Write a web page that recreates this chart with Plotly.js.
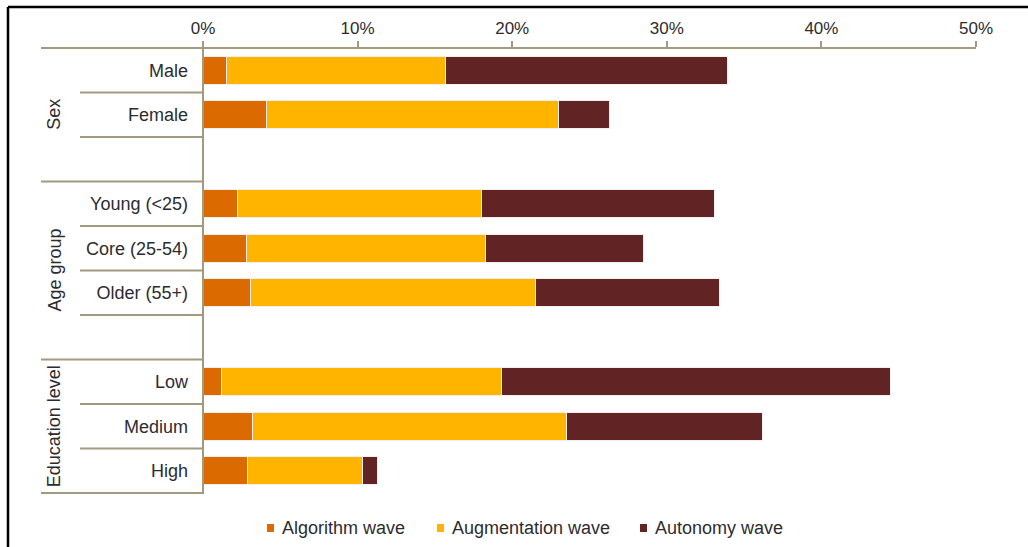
<!DOCTYPE html>
<html>
<head>
<meta charset="utf-8">
<script src="https://cdn.plot.ly/plotly-3.0.1.min.js"></script>
<style>
  html, body { margin: 0; padding: 0; background: #ffffff; }
  #chart { width: 1028px; height: 547px; }
</style>
</head>
<body>
<div id="chart"></div>
<script>
// Share of employment exposed to each automation wave, by worker group (%)
const categories   = ['Male', 'Female', 'Young (<25)', 'Core (25-54)', 'Older (55+)', 'Low', 'Medium', 'High'];
const algorithm    = [1.5, 4.1, 2.2, 2.8, 3.1, 1.2, 3.2, 2.9];
const augmentation = [14.2, 18.9, 15.8, 15.5, 18.4, 18.1, 20.3, 7.4];
const autonomy     = [18.2, 3.3, 15.1, 10.2, 11.9, 25.2, 12.7, 1.0];

const seriesNames  = ['Algorithm wave', 'Augmentation wave', 'Autonomy wave'];
const seriesColors = ['#db6a00', '#ffb400', '#612323'];

const groupNames = ['Sex', 'Age group', 'Education level'];
const groupSizes = [2, 3, 3];

const xTickVals = [0, 10, 20, 30, 40, 50];
const xTickText = ['0%', '10%', '20%', '30%', '40%', '50%'];

// ---- layout geometry (pixels) ----
const W = 1028, H = 547;
const M = { l: 203, r: 52, t: 48, b: 53 };
const plotW = W - M.l - M.r, plotH = H - M.t - M.b;
const px = v => (v - M.l) / plotW;          // pixel x -> paper x
const py = v => (H - M.b - v) / plotH;      // pixel y -> paper y

const ruleColor = '#a19a7f';
const textColor = '#2c2c30';
const FONT = 'Liberation Sans, Arial, sans-serif';

// category order with an empty spacer row after each group (except the last)
const order = [];
const groupSpan = [];
let ci = 0;
groupSizes.forEach((n, g) => {
  const start = order.length;
  for (let k = 0; k < n; k++) order.push(categories[ci++]);
  if (g < groupSizes.length - 1) order.push(' '.repeat(g + 1));
  groupSpan.push([start - 0.5, order.length - 0.5]);
});

const values = [algorithm, augmentation, autonomy];
const traces = values.map((vals, i) => ({
  type: 'bar',
  orientation: 'h',
  name: seriesNames[i],
  y: categories,
  x: vals,
  marker: { color: seriesColors[i], line: { color: '#f3eeee', width: 1 } },
  hoverinfo: 'skip',
  showlegend: false
}));

const shapes = [];
const line = (x0, y0, x1, y1, xref, yref, color, width) => shapes.push({
  type: 'line', xref, yref, x0, y0, x1, y1, layer: 'above',
  line: { color, width }
});

// top axis rule, extended over the label column
line(px(41), 1, 1, 1, 'paper', 'paper', ruleColor, 2);
// vertical rule at 0%
line(0, 0, 0, 1, 'paper', 'paper', ruleColor, 2);
// group and row separators in the label column
groupSpan.forEach(([a, b], g) => {
  line(px(41), b, 0, b, 'paper', 'y', ruleColor, 2);
  for (let k = 1; k <= groupSizes[g]; k++) {
    const yv = a + k;
    if (yv < b) line(px(80), yv, 0, yv, 'paper', 'y', ruleColor, 2);
  }
});

// outer frame (top and left edges)
line(px(8), py(7), px(W + 2), py(7), 'paper', 'paper', '#000000', 2.5);
line(px(8), py(7), px(8), py(H + 2), 'paper', 'paper', '#000000', 2.5);

const annotations = [];
// rotated group titles
groupNames.forEach((name, g) => {
  const [a, b] = groupSpan[g];
  annotations.push({
    xref: 'paper', yref: 'y', x: px(54), y: (a + b) / 2,
    text: name, textangle: -90, showarrow: false,
    xanchor: 'center', yanchor: 'middle',
    font: { family: FONT, size: 18, color: textColor }
  });
});

// legend drawn as swatches + labels
const legendX = [267, 437, 640];
seriesNames.forEach((name, i) => {
  shapes.push({
    type: 'rect', xref: 'paper', yref: 'paper',
    x0: px(legendX[i]), x1: px(legendX[i] + 7),
    y0: py(532), y1: py(524),
    fillcolor: seriesColors[i], line: { width: 0 }
  });
  annotations.push({
    xref: 'paper', yref: 'paper', x: px(legendX[i] + 13), y: py(528),
    text: name, showarrow: false, xanchor: 'left', yanchor: 'middle',
    font: { family: FONT, size: 18, color: textColor }
  });
});

const layout = {
  width: W, height: H,
  margin: { l: M.l, r: M.r, t: M.t, b: M.b, pad: 0 },
  paper_bgcolor: '#ffffff', plot_bgcolor: '#ffffff',
  barmode: 'stack',
  bargap: 0.37,
  showlegend: false,
  font: { family: FONT, size: 18, color: textColor },
  xaxis: {
    side: 'top', range: [0, 50], fixedrange: true,
    tickvals: xTickVals, ticktext: xTickText,
    ticks: 'outside', ticklen: 6, tickwidth: 2, tickcolor: ruleColor,
    ticklabelstandoff: 0,
    showgrid: false, zeroline: false, showline: false,
    tickfont: { family: FONT, size: 17, color: textColor }
  },
  yaxis: {
    type: 'category', categoryorder: 'array', categoryarray: order,
    autorange: 'reversed', fixedrange: true,
    range: [order.length - 0.5, -0.5],
    tickvals: order, ticktext: order,
    ticks: '', showgrid: false, zeroline: false, showline: false,
    ticklabelstandoff: 14,
    tickfont: { family: FONT, size: 18, color: textColor }
  },
  shapes, annotations
};

Plotly.newPlot('chart', traces, layout, { staticPlot: true, displayModeBar: false });
</script>
</body>
</html>
